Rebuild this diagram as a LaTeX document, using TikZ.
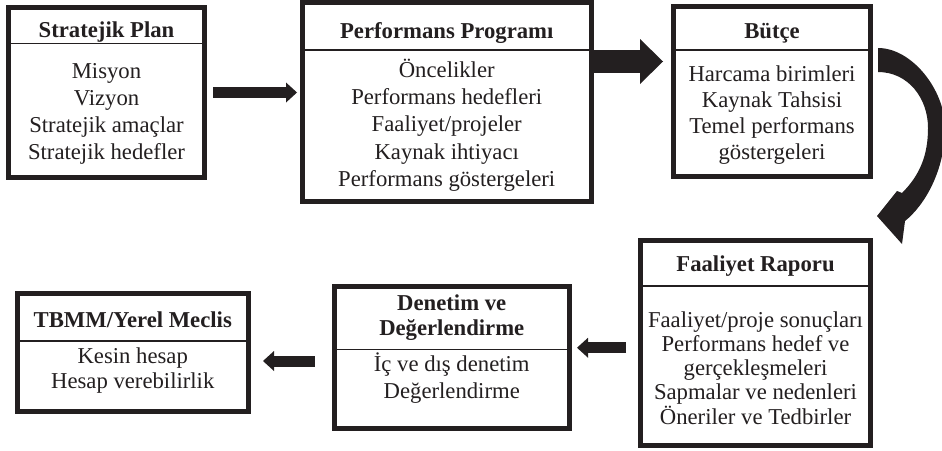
\documentclass[tikz,border=0pt]{standalone}
\usepackage{fontspec}
\setmainfont{Liberation Serif}
\usetikzlibrary{arrows.meta,calc}
\definecolor{ink}{RGB}{35,31,32}
\begin{document}
\begin{tikzpicture}[x=1pt,y=-1pt,
  frame/.style={draw=ink,line width=5pt,rectangle,inner sep=0pt,fill=white},
  divider/.style={draw=ink,line width=1.3pt},
  ttl/.style={font=\fontsize{22.7}{#1}\selectfont\bfseries,align=center,inner sep=0pt,text=ink,anchor=base},
  ttl/.default=25,
  bdy/.style={font=\fontsize{22.7}{#1}\selectfont,align=center,inner sep=0pt,text=ink,anchor=base},
  bdy/.default=27,
  smallarrow/.style={draw=ink,line width=11pt,-{Triangle[length=11pt,width=20pt,line width=0pt,fill=ink]}},
  bigarrow/.style={draw=ink,line width=23pt,-{Triangle[length=23pt,width=45pt,line width=0pt,fill=ink]}}]
\useasboundingbox (0,0) rectangle (942,450);
\clip (0,0) rectangle (942,450);

% boxes
\node[frame,minimum width=196pt,minimum height=170pt] (sp) at (106.5,92.5) {};
\node[frame,minimum width=288.5pt,minimum height=198.5pt] (pp) at (446.75,101.75) {};
\node[frame,minimum width=197pt,minimum height=170pt] (bu) at (772,91.5) {};
\node[frame,minimum width=230pt,minimum height=205.5pt] (fr) at (755.5,342.75) {};
\node[frame,minimum width=235.5pt,minimum height=142pt] (dn) at (451.75,357) {};
\node[frame,minimum width=231.5pt,minimum height=118pt] (tb) at (132.75,352) {};

% dividers
\draw[divider] (8.5,43.3) -- (204.5,43.3);
\draw[divider] (302.5,50) -- (591,50);
\draw[divider] (673.5,50) -- (870.5,50);
\draw[divider] (640.5,286) -- (870.5,286);
\draw[divider] (334,349.3) -- (569.5,349.3);
\draw[divider] (17,341) -- (248.5,341);

% texts (anchor base = baseline of the last line)
\node[ttl] (sp-t) at (106.5,37.7) {Stratejik Plan};
\node[bdy=27.2] (sp-b) at (106.5,159.6) {Misyon\\Vizyon\\Stratejik amaçlar\\Stratejik hedefler};

\node[ttl] (pp-t) at (446.75,38.3) {Performans Programı};
\node[bdy=27.3] (pp-b) at (446.75,186.5) {Öncelikler\\Performans hedefleri\\Faaliyet/projeler\\Kaynak ihtiyacı\\Performans göstergeleri};

\node[ttl] (bu-t) at (772,38.3) {Bütçe};
\node[bdy=26] (bu-b) at (772,159.7) {Harcama birimleri\\Kaynak Tahsisi\\Temel performans\\göstergeleri};

\node[ttl] (fr-t) at (755.5,271.7) {Faaliyet Raporu};
\node[bdy=24.2] (fr-b) at (755.5,424.1) {Faaliyet/proje sonuçları\\Performans hedef ve\\gerçekleşmeleri\\Sapmalar ve nedenleri\\Öneriler ve Tedbirler};

\node[ttl=25] (dn-t) at (451.75,335) {Denetim ve\\Değerlendirme};
\node[bdy=27] (dn-b) at (451.75,398) {İç ve dış denetim\\Değerlendirme};

\node[ttl] (tb-t) at (132.75,327.3) {TBMM/Yerel Meclis};
\node[bdy=25] (tb-b) at (132.75,388.3) {Kesin hesap\\Hesap verebilirlik};

% straight block arrows
\coordinate (a1s) at ([xshift=6pt]sp.east);
\coordinate (a1e) at ([xshift=-3pt]sp.east -| pp.west);
\draw[smallarrow] (a1s) -- (a1e);

\coordinate (a2s) at ([yshift=-61.5pt]pp.north east);
\coordinate (a2e) at ([xshift=-8pt]a2s -| bu.west);
\draw[bigarrow] (a2s) -- (a2e);

\coordinate (a3s) at ([shift={(-12pt,-5pt)}]fr.west);
\coordinate (a3e) at ([xshift=5pt]a3s -| dn.east);
\draw[smallarrow] (a3s) -- (a3e);

\coordinate (a4s) at ([shift={(-17pt,-4pt)}]dn.west);
\coordinate (a4e) at ([xshift=12pt]a4s -| tb.east);
\draw[smallarrow] (a4s) -- (a4e);

% curved arrow from Bütçe to Faaliyet Raporu
\fill[ink] (878,48) .. controls (912,48) and (945,90) .. (945,128)
  .. controls (945,170) and (925,205) .. (905,221)
  -- (902,244) -- (877,216) -- (897,191) -- (902,193)
  .. controls (920,175) and (928,155) .. (928,128)
  .. controls (928,98) and (908,72) .. (878,72) -- cycle;
\end{tikzpicture}
\end{document}
